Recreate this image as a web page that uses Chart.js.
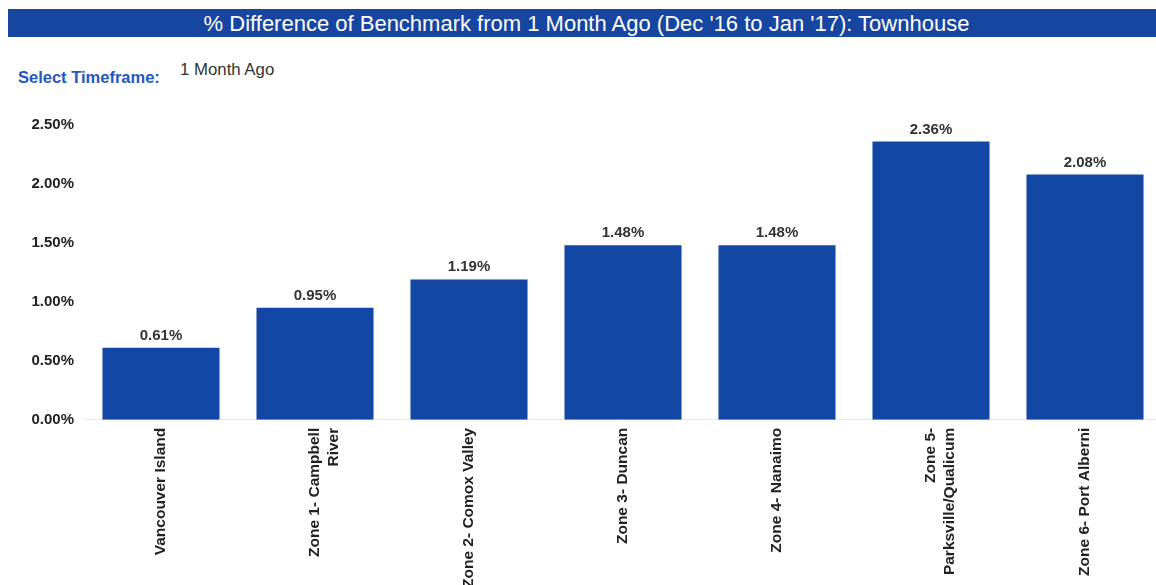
<!DOCTYPE html>
<html>
<head>
<meta charset="utf-8">
<script src="https://cdn.jsdelivr.net/npm/chart.js@4/dist/chart.umd.min.js"></script>
<style>
  html, body { margin: 0; padding: 0; background: #fff; overflow: hidden; width: 1156px; height: 585px; }
  body { position: relative; font-family: "Liberation Sans", Arial, sans-serif; }
  #titleBar {
    position: absolute; left: 8px; top: 9px; width: 1139px; height: 28px; padding-left: 9px;
    background: #1646a0; color: #fff; font-size: 22px; line-height: 29px;
    text-align: center; white-space: nowrap;
  }
  #selLabel { position: absolute; left: 18px; top: 68px; color: #2457c0; font-weight: bold; font-size: 16.5px; }
  #selValue { position: absolute; left: 180px; top: 60px; color: #333; font-size: 16.8px; }
  #wrap { position: absolute; left: 0; top: 95px; width: 1170px; height: 493px; }
</style>
</head>
<body>
<div id="titleBar">% Difference of Benchmark from 1 Month Ago (Dec '16 to Jan '17): Townhouse</div>
<div id="selLabel">Select Timeframe:</div>
<div id="selValue">1 Month Ago</div>
<div id="wrap"><canvas id="chart"></canvas></div>
<script>
// Regions on Vancouver Island and their 1-month benchmark change (%)
const regions = [
  'Vancouver Island',
  ['Zone 1- Campbell', 'River'],
  'Zone 2- Comox Valley',
  'Zone 3- Duncan',
  'Zone 4- Nanaimo',
  ['Zone 5-', 'Parksville/Qualicum'],
  'Zone 6- Port Alberni'
];
const pctChange = [0.61, 0.95, 1.19, 1.48, 1.48, 2.36, 2.08];
const yTicks = [0, 0.5, 1.0, 1.5, 2.0, 2.5];

const FONT = '"Liberation Sans", Arial, sans-serif';

// Writes each bar's value above it
const valueLabels = {
  id: 'valueLabels',
  afterDatasetsDraw(chart) {
    const ctx = chart.ctx;
    const meta = chart.getDatasetMeta(0);
    ctx.save();
    ctx.font = 'bold 15px ' + FONT;
    ctx.fillStyle = '#333';
    ctx.textAlign = 'center';
    ctx.textBaseline = 'alphabetic';
    meta.data.forEach((bar, i) => {
      ctx.fillText(pctChange[i].toFixed(2) + '%', bar.x, bar.y - 8);
    });
    ctx.restore();
  }
};

new Chart(document.getElementById('chart'), {
  type: 'bar',
  data: {
    labels: regions,
    datasets: [{
      data: pctChange,
      backgroundColor: '#1347a6',
      borderWidth: 0,
      barPercentage: 0.76,
      categoryPercentage: 1.0
    }]
  },
  options: {
    responsive: true,
    maintainAspectRatio: false,
    animation: false,
    layout: { padding: { top: 30, right: 8, left: 0, bottom: 0 } },
    plugins: { legend: { display: false }, tooltip: { enabled: false } },
    scales: {
      x: {
        grid: { display: false },
        border: { display: true, color: '#e8e8e8' },
        ticks: {
          maxRotation: 90, minRotation: 90, padding: 0,
          color: '#222', font: { family: FONT, size: 15.5, weight: 'bold' }
        }
      },
      y: {
        min: 0, max: 2.5,
        afterBuildTicks(scale) { scale.ticks = yTicks.map(v => ({ value: v })); },
        afterFit(scale) { scale.width = 84; },
        grid: { display: false },
        border: { display: false },
        ticks: {
          padding: 2,
          color: '#222', font: { family: FONT, size: 15, weight: 'bold' },
          callback: v => Number(v).toFixed(2) + '%'
        }
      }
    }
  },
  plugins: [valueLabels]
});
</script>
</body>
</html>
